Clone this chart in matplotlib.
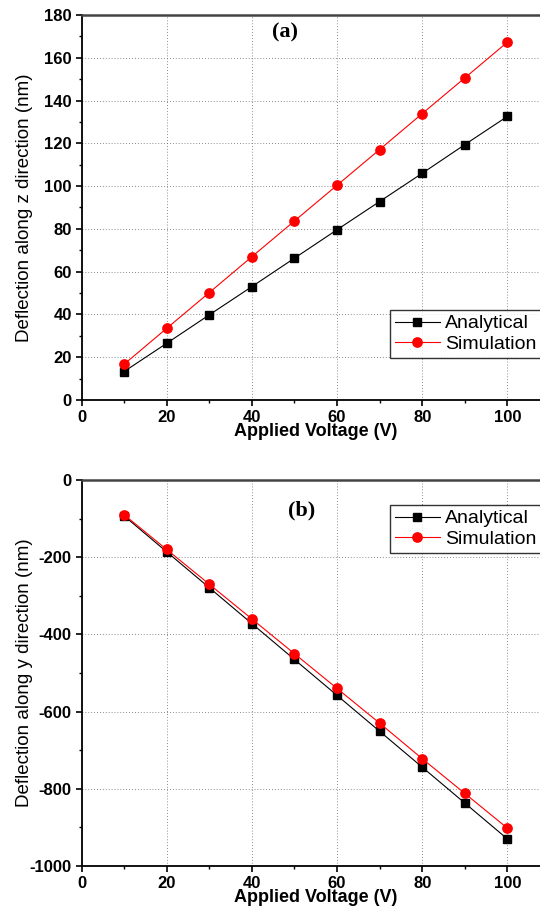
import matplotlib
matplotlib.use("Agg")
from matplotlib import pyplot as plt
from matplotlib.ticker import MultipleLocator

plt.rcParams['font.family'] = ['Liberation Sans', 'DejaVu Sans']
plt.rcParams['axes.unicode_minus'] = False

voltage = [10, 20, 30, 40, 50, 60, 70, 80, 90, 100]
z_analytical = [13.3, 26.5, 39.8, 53.0, 66.3, 79.6, 92.8, 106.0, 119.4, 132.6]
z_simulation = [16.7, 33.5, 50.2, 67.0, 83.7, 100.4, 117.1, 133.9, 150.6, 167.3]
y_analytical = [-93, -186, -279, -372, -465, -558, -651, -744, -837, -930]
y_simulation = [-90, -180, -270, -360, -450, -540, -630, -722, -812, -902]
x_ticks = [0, 20, 40, 60, 80, 100]
z_ticks = [0, 20, 40, 60, 80, 100, 120, 140, 160, 180]
y_ticks = [-1000, -800, -600, -400, -200, 0]

W, H = 540, 911
fig = plt.figure(figsize=(W / 100, H / 100), dpi=100)


def px_axes(left, top, right, bottom):
    return fig.add_axes([left / W, 1 - bottom / H, (right - left) / W, (bottom - top) / H])


def style(ax, ylim, yticks, ymin, ylabel):
    ax.set_xlim(0, 110)
    ax.set_ylim(*ylim)
    ax.set_xticks(x_ticks, labels=[str(v) for v in x_ticks], fontweight='bold')
    ax.set_yticks(yticks, labels=[str(v) for v in yticks], fontweight='bold')
    ax.xaxis.set_minor_locator(MultipleLocator(10))
    ax.yaxis.set_minor_locator(MultipleLocator(ymin))
    ax.spines['right'].set_visible(False)
    for s in ['left', 'bottom']:
        ax.spines[s].set_linewidth(1.3)
    ax.spines['top'].set_linewidth(1.8)
    ax.spines['top'].set_color('#444444')
    ax.tick_params(which='major', direction='out', length=4, width=1.2, labelsize=12, pad=3)
    ax.tick_params(which='minor', direction='out', length=2.5, width=1.0)
    ax.grid(True, which='major', linestyle=(0, (1, 2.5)), color='#666666', linewidth=0.6)
    ax.set_xlabel('Applied Voltage (V)', fontsize=13, fontweight='bold', labelpad=-1)
    ax.set_ylabel(ylabel, fontsize=13.5)
    ax.yaxis.set_label_coords(-0.1035, 0.5)


def draw(ax, ana, sim):
    ax.plot(voltage, ana, color='black', lw=0.8, marker='s', ms=5.5, label='Analytical', zorder=3)
    ax.plot(voltage, sim, color='red', lw=0.8, marker='o', ms=6.7, label='Simulation', zorder=4)


def legend(ax, top_frac):
    leg = ax.legend(loc='upper left', bbox_to_anchor=((390 - 81.5) / 468.5, top_frac),
                    fontsize=14, frameon=True, fancybox=False, edgecolor='black',
                    handlelength=2.3, borderpad=0.25, labelspacing=0.15, handletextpad=0.3,
                    borderaxespad=0)
    leg.get_frame().set_linewidth(1.0)


# (a) deflection along z
ax1 = px_axes(81.5, 15, 550, 400)
draw(ax1, z_analytical, z_simulation)
style(ax1, (0, 180), z_ticks, 10, 'Deflection along z direction (nm)')
ax1.text(0.435, 0.955, '(a)', transform=ax1.transAxes, fontsize=16, fontweight='bold',
         family=['Liberation Serif', 'DejaVu Serif'], ha='center', va='center')
legend(ax1, 1 - (310 - 15) / 385)

# (b) deflection along y
ax2 = px_axes(81.5, 480, 550, 866)
draw(ax2, y_analytical, y_simulation)
style(ax2, (-1000, 0), y_ticks, 100, 'Deflection along y direction (nm)')
ax2.text(0.47, 0.92, '(b)', transform=ax2.transAxes, fontsize=16, fontweight='bold',
         family=['Liberation Serif', 'DejaVu Serif'], ha='center', va='center')
legend(ax2, 1 - (505 - 480) / 386)

fig.savefig('out.png', dpi=100)
